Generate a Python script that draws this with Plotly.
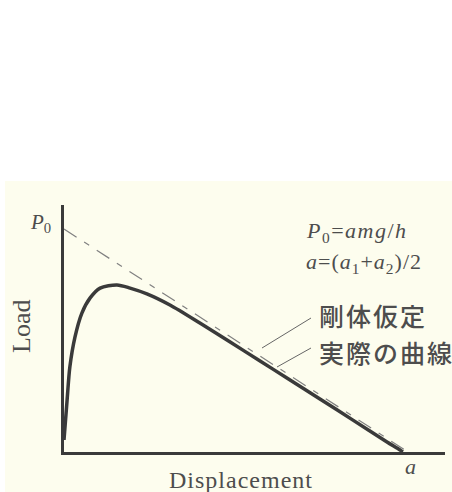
import plotly.graph_objects as go

# ---- data (x in units of a, y in units of P0) ----
curve_x = [0.0, 0.009, 0.017, 0.032, 0.052, 0.076, 0.105, 0.154, 0.192, 0.241,
           0.308, 0.395, 0.483, 0.570, 0.648, 0.744, 0.840, 0.939, 0.977, 0.985]
curve_y = [0.054, 0.233, 0.381, 0.516, 0.623, 0.691, 0.735, 0.749, 0.735, 0.709,
           0.659, 0.578, 0.493, 0.408, 0.332, 0.238, 0.143, 0.045, 0.009, 0.0]
rigid_x = [0.0, 1.0]
rigid_y = [1.0, 0.0]

x_label = "Displacement"
y_label = "Load"
p0_label = "<i>P</i><sub>0</sub>"
a_label = "<i>a</i>"
formula1 = "<i>P</i><sub>0</sub>=<i>amg</i>/<i>h</i>"
formula2 = "<i>a</i>=(<i>a</i><sub>1</sub>+<i>a</i><sub>2</sub>)/2"
label_rigid = "剛体仮定"
label_actual = "実際の曲線"

W, H = 452, 492
L, R, T, B = 64, 445, 205, 452     # plot area in pixels
XMAX = 1.1076
YMAX = 1.1076

def px(x):  # pixel -> data x
    return (x - L) / (R - L) * XMAX

def py(y):  # pixel -> data y
    return (B - y) / (B - T) * YMAX

def ppx(x):  # pixel -> paper x
    return (x - L) / (R - L)

def ppy(y):
    return (B - y) / (B - T)

cream = "#fdfdee"
ink = "#3a3a3a"
txt = "#4d4d4d"
serif = "Liberation Serif, Times New Roman, serif"

fig = go.Figure()
fig.add_trace(go.Scatter(x=rigid_x, y=rigid_y, mode="lines",
                         line=dict(color="#808080", width=1.2, dash="15px,9px,6px,9px"),
                         cliponaxis=False, hoverinfo="skip"))
fig.add_trace(go.Scatter(x=curve_x, y=curve_y, mode="lines",
                         line=dict(color=ink, width=3.5, shape="spline", smoothing=0.8),
                         cliponaxis=False, hoverinfo="skip"))

shapes = [
    dict(type="rect", xref="paper", yref="paper", x0=ppx(5), x1=ppx(460),
         y0=ppy(500), y1=ppy(181), fillcolor=cream, line=dict(width=0), layer="below"),
    dict(type="line", xref="x", yref="y", x0=px(262), y0=py(348), x1=px(311), y1=py(318),
         line=dict(color="#666666", width=1)),
    dict(type="line", xref="x", yref="y", x0=px(277), y0=py(367), x1=px(311), y1=py(348),
         line=dict(color="#666666", width=1)),
]

def ann(text, x, y, size, family=serif, xanchor="center", angle=0, spacing=0, weight=None):
    if spacing:
        text = f'<span style="letter-spacing:{spacing}px">{text}</span>'
    font = dict(family=family, size=size, color=txt)
    if weight:
        font["weight"] = weight
    return dict(text=text, x=ppx(x), y=ppy(y), xref="paper", yref="paper", showarrow=False,
                xanchor=xanchor, yanchor="middle", textangle=angle, font=font)

annotations = [
    ann(p0_label, 40, 223, 21),
    ann(a_label, 410, 466, 22),
    ann(x_label, 241, 480, 24, spacing=1),
    ann(y_label, 21, 327, 26, angle=-90),
    ann(formula1, 304, 232, 22, xanchor="left", spacing=1.5),
    ann(formula2, 304, 263, 22, xanchor="left", spacing=1),
    ann(label_rigid, 317, 315, 25, family="Noto Sans CJK JP", xanchor="left", spacing=2, weight=500),
    ann(label_actual, 317, 352, 25, family="Noto Sans CJK JP", xanchor="left", spacing=2, weight=500),
]

axis_common = dict(showgrid=False, zeroline=False, showticklabels=False, ticks="",
                   showline=True, linewidth=3, linecolor=ink, fixedrange=True)

fig.update_layout(
    width=W, height=H,
    margin=dict(l=L, r=W - R, t=T, b=H - B, pad=0),
    paper_bgcolor="white", plot_bgcolor=cream,
    showlegend=False,
    xaxis=dict(range=[0, XMAX], **axis_common),
    yaxis=dict(range=[0, YMAX], **axis_common),
    shapes=shapes, annotations=annotations,
)

fig.write_html("out.html", config={"displayModeBar": False},
               post_script="document.body.style.margin='0';document.body.style.overflow='hidden';")
